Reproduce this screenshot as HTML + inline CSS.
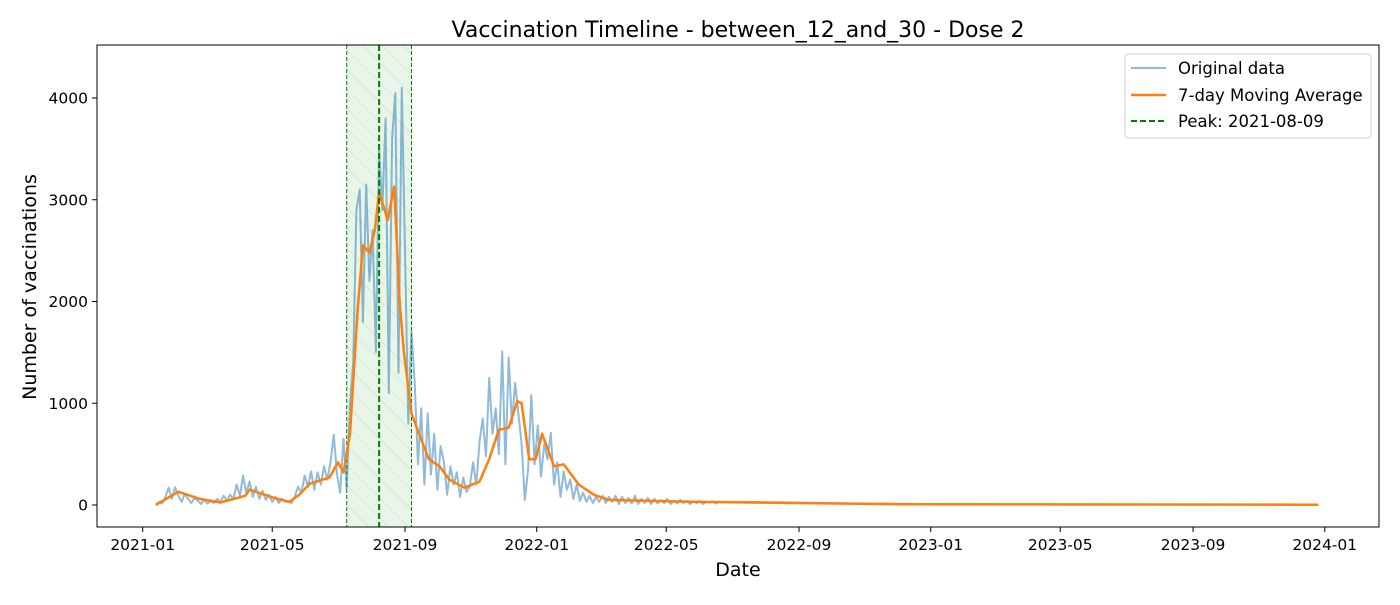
<!DOCTYPE html>
<html><head><meta charset="utf-8"><style>
body{margin:0;background:#fff;}
svg text{font-family:"DejaVu Sans","Liberation Sans",sans-serif;fill:#000;}
</style></head><body>
<svg id="chart" width="1400" height="600" xmlns="http://www.w3.org/2000/svg">
<defs>
<pattern id="hatch" patternUnits="userSpaceOnUse" width="14" height="14" patternTransform="rotate(-45)">
<line x1="0" y1="0" x2="0" y2="14" stroke="#8fd08f" stroke-width="1" opacity="0.5"/>
</pattern>
<clipPath id="clip"><rect x="97" y="45" width="1282" height="482"/></clipPath>
</defs>
<g id="plot" clip-path="url(#clip)"></g>
<rect x="97" y="45" width="1282" height="482" fill="none" stroke="#000" stroke-width="1"/>
<g id="axes"></g>
<text x="738" y="37" font-size="22" text-anchor="middle">Vaccination Timeline - between_12_and_30 - Dose 2</text>
<text x="738" y="576" font-size="19" text-anchor="middle">Date</text>
<text x="36" y="287" font-size="19" text-anchor="middle" transform="rotate(-90 36 287)">Number of vaccinations</text>
<g>
<rect x="1125" y="54" width="246" height="84" rx="3" fill="#fff" fill-opacity="0.8" stroke="#ccc"/>
<line x1="1131" y1="68" x2="1166" y2="68" stroke="#1f77b4" stroke-opacity="0.5" stroke-width="2"/>
<text x="1178" y="74" font-size="16.5">Original data</text>
<line x1="1131" y1="95" x2="1166" y2="95" stroke="#ff7f0e" stroke-width="2.5"/>
<text x="1178" y="101" font-size="16.5">7-day Moving Average</text>
<line x1="1131" y1="121" x2="1166" y2="121" stroke="green" stroke-width="2" stroke-dasharray="6,3"/>
<text x="1178" y="127" font-size="16.5">Peak: 2021-08-09</text>
</g>
</svg>
<script>
const rawStartDay = 12;
const rawStep = 3;
const rawValues = [5,30,15,80,170,60,175,90,30,110,60,
20,70,40,10,50,15,40,20,60,30,90,40,100,60,200,90,290,
120,230,80,180,60,140,50,100,30,80,20,60,30,40,20,90,180,
120,290,180,330,150,320,200,380,250,420,690,300,120,650,160,
1000,1400,2900,3100,1800,3150,2200,2700,1500,3500,2900,3800,1100,3600,4050,1300,4100,2500,800,1700,
1200,400,950,200,900,300,700,150,580,420,100,380,200,320,80,
270,130,180,420,200,620,850,480,1250,700,950,500,1510,400,1450,800,1200,
900,600,50,350,1080,400,780,280,600,450,710,200,420,80,330,
150,250,60,200,40,120,30,90,20,80,30,90,20,80,30,
90,10,80,20,70,15,90,10,60,20,70,10,60,15,50,20,60,10,40,15,50,20,40,10,35,20,40,10,30,25,35,15,30];
const tailDays = [560,600,650,700,750,800,900,1000,1089];
const tailValues = [30,25,15,12,8,6,5,4,3];
const maDays = [12,33,53,72,95,99,122,136,145,155,164,173,181,186,192,199,204,210,215,219,227,233,238,242,249,256,265,275,284,298,312,321,330,339,347,351,358,364,370,381,390,404,418,432,469,515,607,699,1089];
const maValues = [0,130,60,25,90,150,70,30,100,210,240,270,420,320,700,1900,2550,2480,2700,3080,2800,3130,2000,1500,900,700,450,380,250,170,230,450,740,760,1020,1000,450,450,700,380,400,200,100,50,40,30,20,8,3];
const peakDay = 219, shadeStart = 189, shadeEnd = 249;
const yTicks = [0,1000,2000,3000,4000];
const xTickDays = [0,120,243,365,485,608,730,850,973,1095];
const xTickLabels = ["2021-01","2021-05","2021-09","2022-01","2022-05","2022-09","2023-01","2023-05","2023-09","2024-01"];

const NS = "http://www.w3.org/2000/svg";
const X = d => 142.7 + 1.0795 * d;
const Y = v => 505 - 0.10175 * v;
const plot = document.getElementById('plot'), axes = document.getElementById('axes');
function mk(tag, attrs, parent){const e=document.createElementNS(NS,tag);for(const k in attrs)e.setAttribute(k,attrs[k]);parent.appendChild(e);return e;}

const shade = mk('rect',{x:X(shadeStart),y:45,width:X(shadeEnd)-X(shadeStart),height:482,fill:'#2ca02c','fill-opacity':0.1},plot);


const hatch = mk('rect',{x:X(shadeStart),y:45,width:X(shadeEnd)-X(shadeStart),height:482,fill:'url(#hatch)'},plot);


[shadeStart,shadeEnd].forEach(d=>{
  const l = mk('line',{x1:X(d),x2:X(d),y1:45,y2:527,stroke:'green','stroke-width':1,'stroke-dasharray':'4,2'},plot);
  
  
});

let pts = rawValues.map((v,i)=>X(rawStartDay+rawStep*i).toFixed(1)+','+Y(v).toFixed(1));
tailDays.forEach((d,i)=>pts.push(X(d).toFixed(1)+','+Y(tailValues[i]).toFixed(1)));
const raw = mk('polyline',{points:pts.join(' '),fill:'none',stroke:'#1f77b4','stroke-opacity':0.5,'stroke-width':2,'stroke-linejoin':'round'},plot);



const ma = mk('polyline',{points:maDays.map((d,i)=>X(d).toFixed(1)+','+Y(maValues[i]).toFixed(1)).join(' '),fill:'none',stroke:'#ff7f0e','stroke-width':2.5,'stroke-linejoin':'round'},plot);



const pk = mk('line',{x1:X(peakDay),x2:X(peakDay),y1:45,y2:527,stroke:'green','stroke-width':2,'stroke-dasharray':'6,3'},plot);



yTicks.forEach(v=>{
  mk('line',{x1:92,x2:97,y1:Y(v),y2:Y(v),stroke:'#000'},axes);
  const t = mk('text',{x:88,y:Y(v)+5.5,'font-size':15.5,'text-anchor':'end'},axes);
  t.textContent = v;
  
  
});
xTickDays.forEach((d,i)=>{
  mk('line',{x1:X(d),x2:X(d),y1:527,y2:532,stroke:'#000'},axes);
  const t = mk('text',{x:X(d),y:550,'font-size':15.5,'text-anchor':'middle'},axes);
  t.textContent = xTickLabels[i];
  
  
});
</script>
</body></html>
